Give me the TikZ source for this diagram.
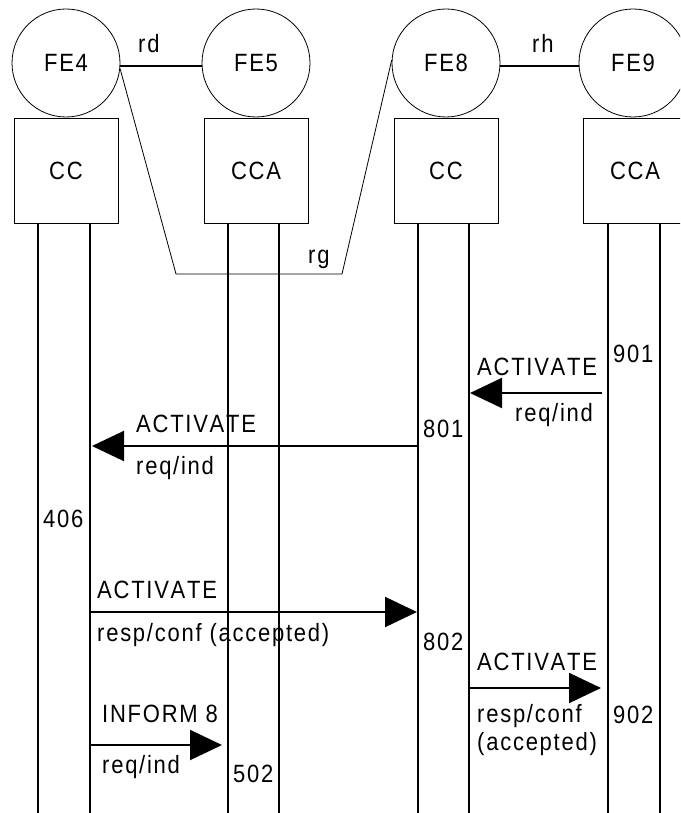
\documentclass[tikz,border=0pt]{standalone}
\usepackage{fontspec}
\setmainfont[Kerning=Off, FakeStretch=0.88, LetterSpace=7]{Liberation Sans}
\usetikzlibrary{arrows.meta}
\begin{document}
\begin{tikzpicture}[x=1pt,y=-1pt,
  font=\fontsize{25}{30}\selectfont,
  fe/.style={circle, draw, line width=0.8pt, minimum size=108pt, inner sep=0pt},
  fbox/.style={rectangle, draw, line width=0.8pt, minimum width=104pt, minimum height=105pt, inner sep=0pt},
  life/.style={line width=2pt},
  msg/.style={line width=2pt, -{Triangle[length=32pt,width=30pt]}},
  rel/.style={line width=1.5pt},
  thinrel/.style={line width=0.8pt},
  lbl/.style={inner sep=0pt, anchor=base west}]
\path[use as bounding box] (0,0) rectangle (680,813);
\clip (0,0) rectangle (680,813);

% functional entities
\node[fe] (fe4) at (66,63) {FE4};
\node[fe] (fe5) at (256,63) {FE5};
\node[fe] (fe8) at (446,63) {FE8};
\node[fe] (fe9) at (633,63) {FE9};

\node[fbox] (cc4) at (66,170.5) {CC};
\node[fbox] (cca5) at (256,170.5) {CCA};
\node[fbox] (cc8) at (446,170.5) {CC};
\node[fbox] (cca9) at (635,170.5) {CCA};

% relationships
\draw[rel] (fe4.-3) -- (fe5.183);
\draw[rel] (fe8.-3) -- (fe9.183);
\coordinate (rg1) at (176,274);
\coordinate (rg2) at (342,274);
\draw[thinrel] (fe4.-6) -- (rg1) -- (rg2) -- (fe8.177);
\node[lbl] (rd) at (138,53) {rd};
\node[lbl] (rh) at (532,53) {rh};
\node[lbl] (rg) at (308,263) {rg};

% lifelines
\foreach \n/\x in {a/38,b/90,c/228,d/279,e/418,f/469,g/608,h/660}{
  \coordinate (\n top) at (\x,223);
  \coordinate (\n bot) at (\x,813);
  \draw[life] (\n top) -- (\n bot);
}

% message end points
\coordinate (m1s) at (602,393);
\coordinate (m1e) at (470,393);
\coordinate (m2s) at (418,446);
\coordinate (m2e) at (92,446);
\coordinate (m3s) at (90,612);
\coordinate (m3e) at (417,612);
\coordinate (m4s) at (469,688);
\coordinate (m4e) at (601,688);
\coordinate (m5s) at (90,745);
\coordinate (m5e) at (222,745);

\draw[msg] (m1s) -- (m1e);
\draw[msg] (m2s) -- (m2e);
\draw[msg] (m3s) -- (m3e);
\draw[msg] (m4s) -- (m4e);
\draw[msg] (m5s) -- (m5e);

% message labels
\node[lbl] (t1a) at (477,375) {ACTIVATE};
\node[lbl] (t1b) at (515,421) {req/ind};
\node[lbl] (n901) at (613,362) {901};
\node[lbl] (n801) at (423,437) {801};

\node[lbl] (t2a) at (136,432) {ACTIVATE};
\node[lbl] (t2b) at (136,474) {req/ind};
\node[lbl] (n406) at (43,527) {406};

\node[lbl] (t3a) at (97,598) {ACTIVATE};
\node[lbl] (t3b) at (97,641) {resp/conf (accepted)};
\node[lbl] (n802) at (423,650) {802};

\node[lbl] (t4a) at (477,670) {ACTIVATE};
\node[lbl] (t4b) at (477,722) {resp/conf};
\node[lbl] (t4c) at (477,750) {(accepted)};
\node[lbl] (n902) at (613,723) {902};

\node[lbl] (t5a) at (102,722) {INFORM 8};
\node[lbl] (t5b) at (102,773) {req/ind};
\node[lbl] (n502) at (233,782) {502};
\end{tikzpicture}
\end{document}
